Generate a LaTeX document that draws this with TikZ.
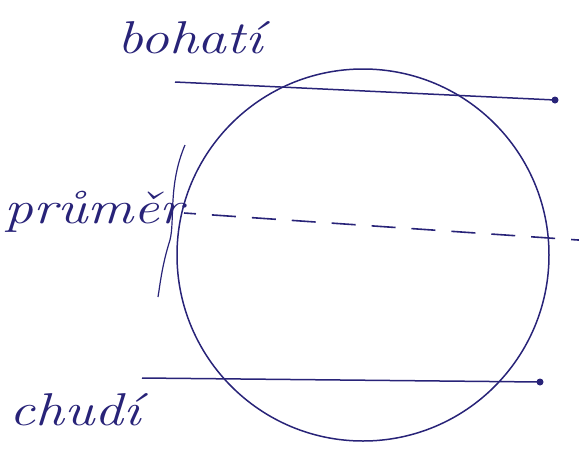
\documentclass[tikz,border=0pt]{standalone}
\usetikzlibrary{calc}
\definecolor{ink}{RGB}{40,35,120}
\tikzset{
  inkline/.style={draw=ink, line width=1.5pt},
  dotend/.style={circle, fill=ink, inner sep=0pt, minimum size=7pt},
  handlabel/.style={text=ink, font=\fontsize{46}{46}\selectfont\itshape, inner sep=0pt, xscale=1.25},
  dashline/.style={draw=ink, line width=1.6pt, dash pattern=on 24pt off 16pt, dash phase=12pt}
}
\begin{document}
\begin{tikzpicture}[x=1pt,y=-1pt]
\useasboundingbox (0,0) rectangle (579,451);
\begin{scope}
\clip (0,0) rectangle (579,451);
% circle
\node[inkline, circle, minimum size=372pt, inner sep=0pt] (circ) at (363,255) {};
% top line
\coordinate (t1) at (175,82);
\node[dotend] (t2) at (555,100) {};
\draw[inkline] (t1) -- (t2.center);
% bottom line
\coordinate (b1) at (142,378);
\node[dotend] (b2) at (540,382) {};
\draw[inkline] (b1) -- (b2.center);
% dashed diameter line
\coordinate (d1) at (184,213);
\coordinate (d2) at (600,241.5);
\draw[dashline] (d1) -- (d2);
% extra hand stroke at left
\coordinate (s1) at (185,145);
\coordinate (s2) at (158,297);
\draw[draw=ink, line width=1.2pt] (s1) .. controls (168,185) and (175,220) .. (170,240) .. controls (162,265) and (160,285) .. (s2);
% labels
\node[handlabel] (rich) at (190,38) {bohatí};
\node[handlabel] (avg) at (94,212) {průměr};
\node[handlabel] (poor) at (75,410) {chudí};
\end{scope}
\end{tikzpicture}
\end{document}
